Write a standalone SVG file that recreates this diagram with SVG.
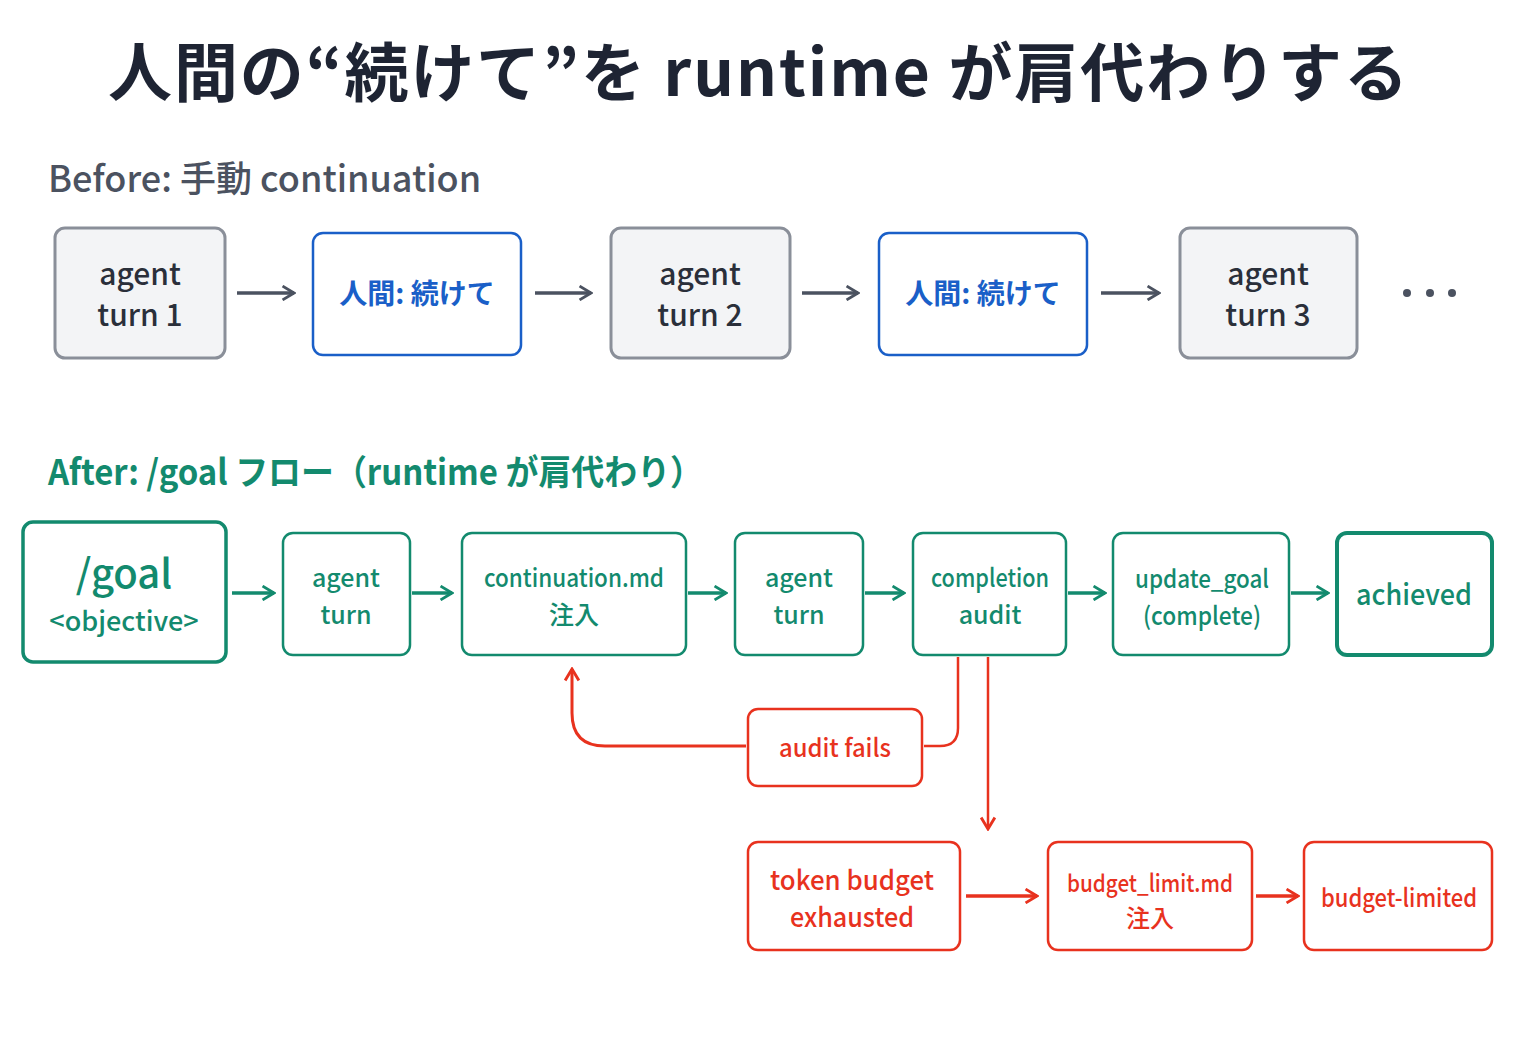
<svg xmlns="http://www.w3.org/2000/svg" width="1513" height="1039" viewBox="0 0 1513 1039">
<defs>
<marker id="ag" viewBox="0 0 14 14" refX="12" refY="7" markerWidth="16" markerHeight="16" markerUnits="userSpaceOnUse" orient="auto"><path d="M2,1 L12,7 L2,13" fill="none" stroke="#4b5260" stroke-width="2.5"/></marker>
<marker id="gr" viewBox="0 0 14 14" refX="12" refY="7" markerWidth="16" markerHeight="16" markerUnits="userSpaceOnUse" orient="auto"><path d="M2,1 L12,7 L2,13" fill="none" stroke="#138a6e" stroke-width="2.5"/></marker>
<marker id="rd" viewBox="0 0 14 14" refX="12" refY="7" markerWidth="16" markerHeight="16" markerUnits="userSpaceOnUse" orient="auto"><path d="M2,1 L12,7 L2,13" fill="none" stroke="#e8321e" stroke-width="2.5"/></marker>
</defs>
<style>
text{font-family:"Noto Sans CJK JP","Noto Sans",sans-serif;text-anchor:middle}
.gray rect{fill:#f3f4f6;stroke:#8a8f99;stroke-width:3}
.gray text{fill:#2a2f3a;font-size:30px;font-weight:500}
.blue rect{fill:#fff;stroke:#1a5fc8;stroke-width:2.5}
.blue text{fill:#1a5fc8;font-size:28px;font-weight:bold}
.green rect{fill:#fff;stroke:#138a6e;stroke-width:2.5}
.green text{fill:#138a6e;font-size:25px;font-weight:500}
.red rect{fill:#fff;stroke:#e8321e;stroke-width:2.5}
.red text{fill:#e8321e;font-size:25px;font-weight:500}
.ca{stroke:#4b5260;stroke-width:3.5;fill:none;marker-end:url(#ag)}
.cg{stroke:#138a6e;stroke-width:3.5;fill:none;marker-end:url(#gr)}
.cr{stroke:#e8321e;stroke-width:2.5;fill:none}
</style>
<rect width="1513" height="1039" fill="#fff"/>
<text x="758" y="96" font-size="64" font-weight="bold" fill="#1e2433" textLength="1300" lengthAdjust="spacing">人間の“続けて”を runtime が肩代わりする</text>
<text x="48" y="192" font-size="36" font-weight="500" fill="#4b5260" style="text-anchor:start">Before: 手動 continuation</text>
<text x="48" y="485" font-size="35" font-weight="bold" fill="#138a6e" style="text-anchor:start" textLength="655" lengthAdjust="spacingAndGlyphs">After: /goal フロー（runtime が肩代わり）</text>

<g id="b1" class="gray"><rect x="55" y="228" width="170" height="130" rx="10"/><text x="140" y="285">agent</text><text x="140" y="326">turn 1</text></g>
<g id="b2" class="blue"><rect x="313" y="233" width="208" height="122" rx="10"/><text x="417" y="304">人間: 続けて</text></g>
<g id="b3" class="gray"><rect x="611" y="228" width="179" height="130" rx="10"/><text x="700" y="285">agent</text><text x="700" y="326">turn 2</text></g>
<g id="b4" class="blue"><rect x="879" y="233" width="208" height="122" rx="10"/><text x="983" y="304">人間: 続けて</text></g>
<g id="b5" class="gray"><rect x="1180" y="228" width="177" height="130" rx="10"/><text x="1268" y="285">agent</text><text x="1268" y="326">turn 3</text></g>
<g id="dots" fill="#4b5260"><circle cx="1407" cy="293" r="4"/><circle cx="1430" cy="293" r="4"/><circle cx="1452" cy="293" r="4"/></g>

<g id="goal" class="green"><rect x="23" y="522" width="203" height="140" rx="10" style="stroke-width:3.5"/><text x="124" y="588" style="font-size:40px">/goal</text><text x="124" y="631" style="font-size:27px">&lt;objective&gt;</text></g>
<g id="at1" class="green"><rect x="283" y="533" width="127" height="122" rx="10"/><text x="346" y="587">agent</text><text x="346" y="624">turn</text></g>
<g id="cont" class="green"><rect x="462" y="533" width="224" height="122" rx="10"/><text x="574" y="587" textLength="180" lengthAdjust="spacingAndGlyphs">continuation.md</text><text x="574" y="624">注入</text></g>
<g id="at2" class="green"><rect x="735" y="533" width="128" height="122" rx="10"/><text x="799" y="587">agent</text><text x="799" y="624">turn</text></g>
<g id="audit" class="green"><rect x="913" y="533" width="153" height="122" rx="10"/><text x="990" y="587" textLength="118" lengthAdjust="spacingAndGlyphs">completion</text><text x="990" y="624">audit</text></g>
<g id="upd" class="green"><rect x="1113" y="533" width="176" height="122" rx="10"/><text x="1202" y="588" textLength="134" lengthAdjust="spacingAndGlyphs">update_goal</text><text x="1202" y="625" textLength="118" lengthAdjust="spacingAndGlyphs">(complete)</text></g>
<g id="ach" class="green"><rect x="1337" y="533" width="155" height="122" rx="10" style="stroke-width:4"/><text x="1414" y="605" style="font-size:29px" textLength="116" lengthAdjust="spacingAndGlyphs">achieved</text></g>

<g id="fails" class="red"><rect x="748" y="709" width="174" height="77" rx="10"/><text x="835" y="757" textLength="112" lengthAdjust="spacingAndGlyphs">audit fails</text></g>
<g id="tok" class="red"><rect x="748" y="842" width="212" height="108" rx="10"/><text x="852" y="890" style="font-size:27px" textLength="164" lengthAdjust="spacingAndGlyphs">token budget</text><text x="852" y="927" style="font-size:27px" textLength="124" lengthAdjust="spacingAndGlyphs">exhausted</text></g>
<g id="bl" class="red"><rect x="1048" y="842" width="204" height="108" rx="10"/><text x="1150" y="892" style="font-size:24px" textLength="166" lengthAdjust="spacingAndGlyphs">budget_limit.md</text><text x="1150" y="927" style="font-size:24px">注入</text></g>
<g id="blim" class="red"><rect x="1304" y="842" width="188" height="108" rx="10"/><text x="1399" y="907" textLength="156" lengthAdjust="spacingAndGlyphs">budget-limited</text></g>

<g id="connectors">
<path class="ca" d="M237,293 H294"/><path class="ca" d="M535,293 H591"/><path class="ca" d="M802,293 H858"/><path class="ca" d="M1101,293 H1159"/>
<path class="cg" d="M232,593 H274"/><path class="cg" d="M412,593 H452"/><path class="cg" d="M688,593 H726"/><path class="cg" d="M865,593 H904"/><path class="cg" d="M1068,593 H1105"/><path class="cg" d="M1291,593 H1328"/>
<path class="cr" d="M958,657 V728 Q958,746 940,746 H924"/>
<path class="cr" d="M746,746 H605 Q572,746 572,713 V669" style="stroke-width:3" marker-end="url(#rd)"/>
<path class="cr" d="M988,657 V829" marker-end="url(#rd)"/>
<path class="cr" d="M966,896 H1037" style="stroke-width:3.5" marker-end="url(#rd)"/>
<path class="cr" d="M1256,896 H1298" style="stroke-width:3.5" marker-end="url(#rd)"/>
</g>
</svg>
